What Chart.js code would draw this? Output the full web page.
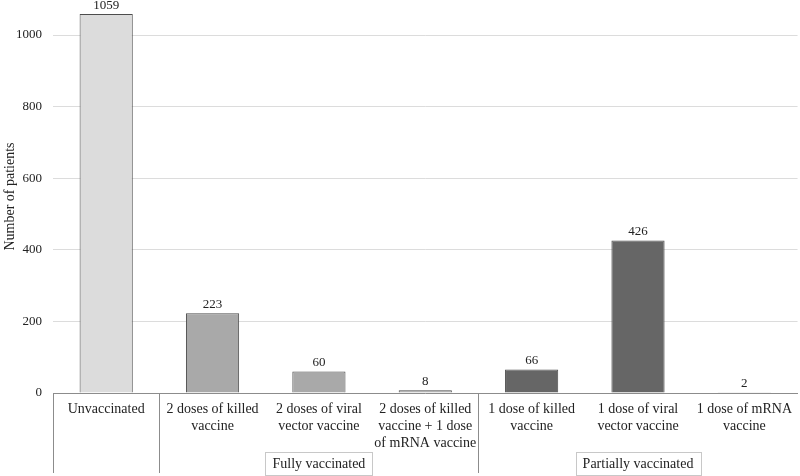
<!DOCTYPE html>
<html>
<head>
<meta charset="utf-8">
<script src="https://cdn.jsdelivr.net/npm/chart.js@4"></script>
<style>
  html, body { margin: 0; padding: 0; background: #fff; }
  #wrap { width: 800px; height: 476px; }
</style>
</head>
<body>
<div id="wrap"><canvas id="chart"></canvas></div>
<script>
// categorias e valores
const categorias = [
    'Unvaccinated',
    ['2 doses of killed', 'vaccine'],
    ['2 doses of viral', 'vector vaccine'],
    ['2 doses of killed', 'vaccine + 1 dose', 'of mRNA vaccine'],
    ['1 dose of killed', 'vaccine'],
    ['1 dose of viral', 'vector vaccine'],
    ['1 dose of mRNA', 'vaccine']
];
const pacientes = [1059, 223, 60, 8, 66, 426, 2];
const coresBarras = ['#dcdcdc', '#a9a9a9', '#a9a9a9', '#a9a9a9', '#666666', '#666666', '#666666'];
const ticksY = [0, 200, 400, 600, 800, 1000];

// grupos: [primeiro índice, último índice, rótulo]
const grupos = [
    [1, 3, 'Fully vaccinated'],
    [4, 6, 'Partially vaccinated']
];
const separadores = [0, 1, 4]; // fronteiras à esquerda destas categorias

const fonte = '"Liberation Serif", "Times New Roman", serif';

// rótulos de valor acima das barras
const rotulosValor = {
    id: 'rotulosValor',
    afterDatasetsDraw(chart) {
        const ctx = chart.ctx;
        const meta = chart.getDatasetMeta(0);
        ctx.save();
        ctx.font = '13px ' + fonte;
        ctx.fillStyle = '#222';
        ctx.textAlign = 'center';
        ctx.textBaseline = 'bottom';
        meta.data.forEach((bar, i) => {
            ctx.fillText(String(pacientes[i]), bar.x, bar.y - 2);
        });
        ctx.restore();
    }
};

// separadores verticais e caixas de grupo sob o eixo x
const gruposEixo = {
    id: 'gruposEixo',
    afterDraw(chart) {
        const ctx = chart.ctx;
        const x = chart.scales.x;
        const area = chart.chartArea;
        const limite = (i) => i === 0 ? area.left : (x.getPixelForValue(i - 1) + x.getPixelForValue(i)) / 2;
        const direita = (i) => i === categorias.length - 1 ? area.right : (x.getPixelForValue(i) + x.getPixelForValue(i + 1)) / 2;
        ctx.save();
        ctx.strokeStyle = '#8c8c8c';
        ctx.lineWidth = 1;
        separadores.forEach(i => {
            const px = Math.round(limite(i)) + 0.5;
            ctx.beginPath();
            ctx.moveTo(px, area.bottom);
            ctx.lineTo(px, 473);
            ctx.stroke();
        });
        ctx.font = '14px ' + fonte;
        ctx.textAlign = 'center';
        ctx.textBaseline = 'middle';
        grupos.forEach(([a, b, texto]) => {
            const cx = (limite(a) + direita(b)) / 2;
            const w = ctx.measureText(texto).width + 14;
            const top = 452, h = 23;
            ctx.strokeStyle = '#c8c8c8';
            ctx.strokeRect(Math.round(cx - w / 2) + 0.5, top + 0.5, Math.round(w), h);
            ctx.fillStyle = '#222';
            ctx.fillText(texto, cx, top + h / 2 + 1);
        });
        ctx.restore();
    }
};

new Chart(document.getElementById('chart').getContext('2d'), {
    type: 'bar',
    data: {
        labels: categorias,
        datasets: [{
            data: pacientes,
            backgroundColor: coresBarras,
            borderColor: '#4d4d4d',
            borderWidth: 1,
            categoryPercentage: 1,
            barPercentage: 0.5
        }]
    },
    options: {
        responsive: true,
        maintainAspectRatio: false,
        animation: false,
        layout: { padding: { top: 0, right: 0, bottom: 0, left: 0 } },
        plugins: {
            legend: { display: false },
            tooltip: { enabled: false }
        },
        scales: {
            x: {
                grid: { display: false, drawTicks: false },
                border: { display: true, color: '#8c8c8c' },
                ticks: {
                    color: '#222',
                    font: { family: fonte, size: 14 },
                    maxRotation: 0,
                    autoSkip: false,
                    padding: 8
                },
                afterFit(scale) { scale.height = 83; }
            },
            y: {
                min: 0,
                max: 1098,
                grid: { color: '#dcdcdc', drawTicks: false },
                border: { display: false },
                ticks: {
                    stepSize: 200,
                    color: '#222',
                    font: { family: fonte, size: 13 },
                    padding: 11,
                    callback: (v) => String(v)
                },
                afterBuildTicks(scale) {
                    scale.ticks = ticksY.map(v => ({ value: v }));
                },
                title: {
                    display: true,
                    text: 'Number of patients',
                    color: '#222',
                    font: { family: fonte, size: 14 },
                    padding: { top: 2, bottom: 0 }
                },
                afterFit(scale) {
                    scale.width = 53;
                    scale.paddingTop = 0;
                    scale.paddingBottom = 0;
                }
            }
        }
    },
    plugins: [rotulosValor, gruposEixo]
});
</script>
</body>
</html>
